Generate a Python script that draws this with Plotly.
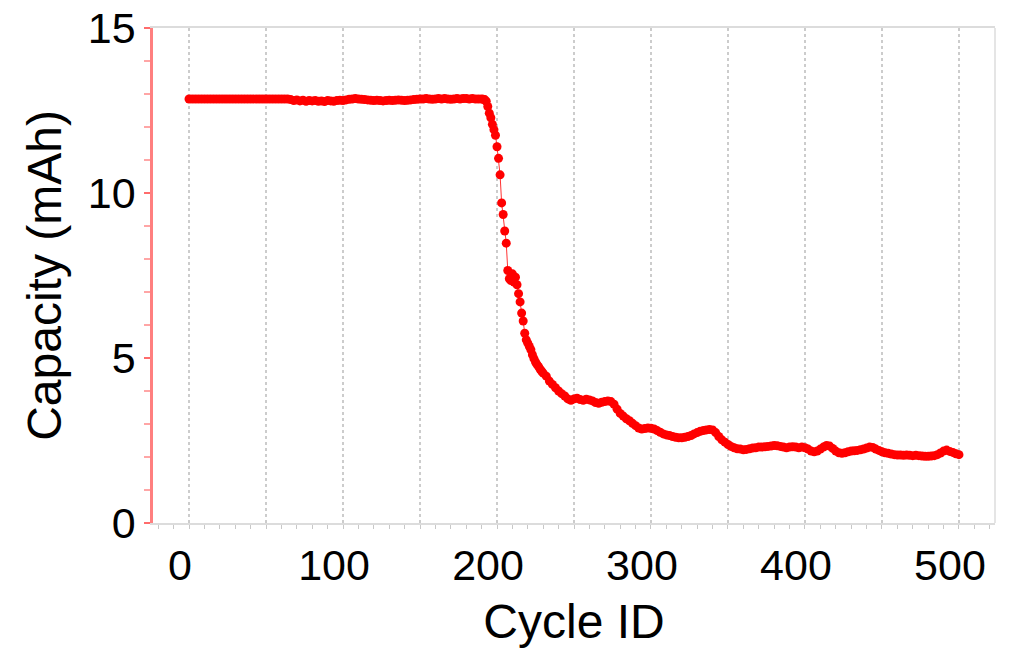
import plotly.graph_objects as go

# ---- data ----
# cycles 0..188, every 2nd cycle
cap_flat = [
    12.85, 12.85, 12.85, 12.85, 12.85, 12.85, 12.85, 12.85, 12.85, 12.85,   # 0-18
    12.85, 12.85, 12.85, 12.85, 12.85, 12.85, 12.85, 12.85, 12.85, 12.85,   # 20-38
    12.85, 12.85, 12.85, 12.85, 12.85, 12.85, 12.85, 12.85, 12.85, 12.85,   # 40-58
    12.85, 12.85, 12.85, 12.83, 12.80, 12.82, 12.79, 12.81, 12.78, 12.80,   # 60-78
    12.79, 12.80, 12.78, 12.79, 12.77, 12.80, 12.79, 12.78, 12.80, 12.81,   # 80-98
    12.80, 12.82, 12.84, 12.85, 12.86, 12.85, 12.84, 12.83, 12.82, 12.81,   # 100-118
    12.80, 12.81, 12.80, 12.79, 12.80, 12.81, 12.80, 12.81, 12.82, 12.81,   # 120-138
    12.80, 12.81, 12.82, 12.83, 12.84, 12.85, 12.85, 12.86, 12.85, 12.84,   # 140-158
    12.85, 12.86, 12.85, 12.86, 12.85, 12.84, 12.85, 12.86, 12.85, 12.86,   # 160-178
    12.86, 12.85, 12.86, 12.85, 12.85,                                      # 180-188
]
# cycles 190..230, every cycle
cap_drop = [
    12.85, 12.84, 12.83, 12.78, 12.62, 12.42, 12.28, 12.08, 11.92, 11.75,   # 190-199
    11.40, 11.05, 10.55, 9.70, 9.35, 8.85, 8.48, 7.65, 7.40, 7.35,         # 200-209
    7.55, 7.30, 7.45, 7.22, 6.95, 6.70, 6.36, 6.12, 5.75, 5.55,            # 210-219
    5.45, 5.35, 5.25, 5.10, 4.98, 4.88, 4.80, 4.74, 4.66, 4.60,            # 220-229
    4.54,                                                                  # 230
]
# cycles 232..500, every 2nd cycle
cap_tail = [
    4.45, 4.30, 4.20, 4.10, 4.00, 3.92, 3.85, 3.76, 3.72,                  # 232-248
    3.76, 3.78, 3.74, 3.72, 3.75, 3.73, 3.70, 3.65, 3.63, 3.66,            # 250-268
    3.68, 3.70, 3.68, 3.60, 3.45, 3.32, 3.24, 3.16, 3.10, 3.02,            # 270-288
    2.95, 2.88, 2.85, 2.86, 2.88, 2.87, 2.85, 2.80, 2.75, 2.70,            # 290-308
    2.67, 2.65, 2.62, 2.60, 2.58, 2.58, 2.60, 2.62, 2.65, 2.70,            # 310-328
    2.74, 2.78, 2.80, 2.82, 2.83, 2.82, 2.74, 2.62, 2.52, 2.45,            # 330-348
    2.38, 2.32, 2.28, 2.25, 2.24, 2.22, 2.23, 2.25, 2.27, 2.28,            # 350-368
    2.30, 2.30, 2.31, 2.32, 2.33, 2.35, 2.34, 2.32, 2.30, 2.28,            # 370-388
    2.30, 2.31, 2.30, 2.28, 2.30, 2.28, 2.24, 2.18, 2.16, 2.18,            # 390-408
    2.24, 2.30, 2.35, 2.33, 2.26, 2.18, 2.13, 2.11, 2.13, 2.16,            # 410-428
    2.18, 2.19, 2.20, 2.22, 2.24, 2.27, 2.30, 2.29, 2.24, 2.20,            # 430-448
    2.16, 2.13, 2.11, 2.09, 2.07, 2.06, 2.06, 2.05, 2.06, 2.05,            # 450-468
    2.04, 2.05, 2.04, 2.03, 2.02, 2.02, 2.03, 2.04, 2.07, 2.12,            # 470-488
    2.18, 2.21, 2.17, 2.14, 2.10, 2.07,                                    # 490-500
]
cyc_flat = list(range(0, 190, 2))
cyc_drop = list(range(190, 231))
cyc_tail = list(range(232, 501, 2))

cycles = cyc_flat + cyc_drop + cyc_tail
capacity = cap_flat + cap_drop + cap_tail
assert len(cycles) == len(capacity), (len(cycles), len(capacity))

x_tickvals = [0, 50, 100, 150, 200, 250, 300, 350, 400, 450, 500]
x_ticktext = ["0", "", "100", "", "200", "", "300", "", "400", "", "500"]
y_tickvals = [0, 5, 10, 15]

FONT = "Liberation Sans, Arial, sans-serif"

fig = go.Figure()
fig.add_trace(go.Scatter(
    x=cycles, y=capacity, mode="lines+markers",
    line=dict(color="rgba(255,0,0,0.8)", width=1),
    marker=dict(color="#ff0000", size=9, symbol="circle", line=dict(width=0)),
    showlegend=False,
))

fig.update_layout(
    width=1017, height=650,
    margin=dict(l=153, r=22, t=28, b=127, autoexpand=False),
    plot_bgcolor="white", paper_bgcolor="white",
    font=dict(family=FONT, color="black"),
    shapes=[dict(type="line", xref="paper", yref="paper", x0=1, x1=1, y0=0, y1=1,
                 line=dict(color="#dcdcdc", width=1.5))],
)
fig.update_xaxes(
    range=[-23.4, 523.4], automargin=False,
    tickmode="array", tickvals=x_tickvals, ticktext=x_ticktext,
    ticks="outside", ticklen=4, tickwidth=1, tickcolor="#c8c8c8",
    tickfont=dict(size=43, family=FONT), ticklabelshift=-9,
    showgrid=True, gridcolor="#cccccc", griddash="dot", gridwidth=1.5,
    showline=True, linecolor="#dcdcdc", linewidth=1.5, mirror=True,
    zeroline=False,
    minor=dict(tickmode="linear", tick0=0, dtick=10, ticks="outside", ticklen=4,
               tickcolor="#c8c8c8", showgrid=False),
    title=dict(text="Cycle ID", font=dict(size=48, family=FONT), standoff=16),
)
fig.update_yaxes(
    range=[0, 15], automargin=False,
    tickmode="array", tickvals=y_tickvals,
    ticks="outside", ticklen=6, tickwidth=1.5, tickcolor="rgba(255,0,0,0.35)",
    tickfont=dict(size=43, family=FONT),
    showgrid=False, zeroline=False,
    showline=True, linecolor="rgba(255,0,0,0.5)", linewidth=2.5,
    minor=dict(tickmode="linear", tick0=0, dtick=1, ticks="outside", ticklen=6,
               tickcolor="rgba(255,0,0,0.35)", showgrid=False),
    title=dict(text="Capacity (mAh)", font=dict(size=48, family=FONT), standoff=12),
)

fig.write_html("out.html")
